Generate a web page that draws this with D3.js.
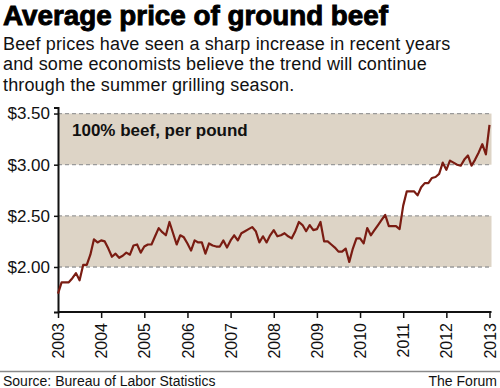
<!DOCTYPE html>
<html>
<head>
<meta charset="utf-8">
<script src="https://cdn.jsdelivr.net/npm/d3@7"></script>
<style>
  body { margin: 0; background: #fff; }
  text { font-family: "Liberation Sans", Arial, sans-serif; }
</style>
</head>
<body>
<div id="chart"></div>
<script>
// DATA - MONTHLY PRICES, JAN 2003 TO JAN 2013
const years = [2003, 2004, 2005, 2006, 2007, 2008, 2009, 2010, 2011, 2012, 2013];
const prices = [
  1.74, 1.85, 1.85, 1.85, 1.89, 1.94, 1.87, 2.02, 2.02, 2.12, 2.27, 2.24,
  2.26, 2.25, 2.18, 2.10, 2.13, 2.09, 2.11, 2.14, 2.12, 2.21, 2.22, 2.14,
  2.20, 2.22, 2.22, 2.30, 2.38, 2.34, 2.31, 2.44, 2.33, 2.22, 2.31, 2.29,
  2.23, 2.16, 2.26, 2.24, 2.24, 2.13, 2.23, 2.21, 2.20, 2.20, 2.26, 2.19,
  2.26, 2.31, 2.26, 2.33, 2.35, 2.37, 2.39, 2.35, 2.24, 2.30, 2.24, 2.31,
  2.36, 2.30, 2.31, 2.33, 2.30, 2.28, 2.35, 2.44, 2.41, 2.35, 2.41, 2.36,
  2.37, 2.44, 2.25, 2.25, 2.22, 2.19, 2.15, 2.15, 2.18, 2.05, 2.18, 2.28,
  2.28, 2.23, 2.38, 2.31, 2.36, 2.41, 2.46, 2.51, 2.40, 2.40, 2.40, 2.37,
  2.60, 2.74, 2.74, 2.74, 2.70, 2.78, 2.82, 2.82, 2.87, 2.88, 2.91, 3.02,
  2.95, 3.04, 3.02, 3.00, 2.99, 3.05, 3.09, 2.99, 3.05, 3.12, 3.20, 3.10,
  3.39
];
const yTicks = [2.00, 2.50, 3.00, 3.50];
const bands = [[2.00, 2.50], [3.00, 3.50]];
const subtitle = [
  'Beef prices have seen a sharp increase in recent years',
  'and some economists believe the trend will continue',
  'through the summer grilling season.'
];

// SIZES
width = 500;
height = 388;
left = 58;
right = 491.5;
bottom = 312;

svg = d3.select('#chart')
  .append('svg')
  .attr('width', width)
  .attr('height', height);

// SCALES
x = d3.scaleLinear().domain([2003, 2013]).range([left, 489.5]);
y = d3.scaleLinear().domain([1.56, 3.56]).range([bottom, 107.4]);

data = prices.map((p, i) => ({ t: 2003 + i / 12, p: p }));

// SHADED BANDS
svg.selectAll('rect.band')
  .data(bands)
  .enter()
  .append('rect')
  .attr('class', 'band')
  .attr('x', left)
  .attr('width', right - left)
  .attr('y', d => y(d[1]))
  .attr('height', d => y(d[0]) - y(d[1]))
  .attr('fill', '#ddd4c6');

// DASHED GRID
svg.selectAll('line.grid')
  .data(yTicks)
  .enter()
  .append('line')
  .attr('class', 'grid')
  .attr('x1', left)
  .attr('x2', right)
  .attr('y1', d => y(d))
  .attr('y2', d => y(d))
  .attr('stroke', '#9a9a9a')
  .attr('stroke-width', 1.3)
  .attr('stroke-dasharray', '4,3');

// LABEL IN TOP BAND
svg.append('text')
  .text('100% beef, per pound')
  .attr('x', 72)
  .attr('y', 136)
  .attr('font-size', 17)
  .attr('font-weight', 'bold')
  .attr('fill', '#111');

// Y AXIS
yAxis = d3.axisLeft(y)
  .tickValues(yTicks)
  .tickSize(4)
  .tickPadding(4)
  .tickFormat(d => '$' + d3.format('.2f')(d));

gy = svg.append('g')
  .attr('transform', `translate(${left},0)`)
  .call(yAxis);
gy.select('.domain').attr('stroke', '#111').attr('stroke-width', 2);
gy.selectAll('.tick line').attr('stroke', '#111').attr('stroke-width', 1.5);
gy.selectAll('.tick text')
  .attr('font-size', 17)
  .attr('font-family', '"Liberation Sans", Arial, sans-serif')
  .attr('fill', '#111');

// X AXIS
xAxis = d3.axisBottom(x)
  .tickValues(years)
  .tickSize(6)
  .tickSizeOuter(0)
  .tickFormat(d3.format('d'));

gx = svg.append('g')
  .attr('transform', `translate(0,${bottom})`)
  .call(xAxis);
gx.select('.domain').attr('stroke', '#111').attr('stroke-width', 2)
  .attr('d', `M${left},0H${right}`);
gx.selectAll('.tick line').attr('stroke', '#111').attr('stroke-width', 1.5);
gx.selectAll('.tick text')
  .attr('font-size', 16)
  .attr('font-family', '"Liberation Sans", Arial, sans-serif')
  .attr('fill', '#111')
  .attr('transform', 'rotate(-90)')
  .attr('x', -11)
  .attr('y', 0)
  .attr('dy', '0.35em')
  .attr('text-anchor', 'end');

// PRICE LINE
line = d3.line()
  .x(d => x(d.t))
  .y(d => y(d.p));

svg.append('path')
  .datum(data)
  .attr('d', line)
  .attr('fill', 'none')
  .attr('stroke', '#7a1c12')
  .attr('stroke-width', 2.2)
  .attr('stroke-linejoin', 'round');

// TITLE
svg.append('text')
  .text('Average price of ground beef')
  .attr('x', 3)
  .attr('y', 25)
  .attr('font-size', 27.5)
  .attr('font-weight', 'bold')
  .attr('font-family', '"Liberation Sans Narrow", "DejaVu Sans Condensed", sans-serif')
  .attr('textLength', 385)
  .attr('lengthAdjust', 'spacingAndGlyphs')
  .attr('stroke', '#000')
  .attr('stroke-width', 0.9)
  .attr('fill', '#000');

// SUBTITLE
svg.append('g')
  .selectAll('text')
  .data(subtitle)
  .enter()
  .append('text')
  .text(d => d)
  .attr('x', 3)
  .attr('y', (d, i) => 49.5 + i * 20.7)
  .attr('font-size', 18)
  .attr('letter-spacing', 0.15)
  .attr('fill', '#111');

// FOOTER
svg.append('line')
  .attr('x1', 0)
  .attr('x2', width)
  .attr('y1', 371.5)
  .attr('y2', 371.5)
  .attr('stroke', '#8a8a8a')
  .attr('stroke-width', 1.5);

svg.append('text')
  .text('Source: Bureau of Labor Statistics')
  .attr('x', 3)
  .attr('y', 386)
  .attr('font-size', 14)
  .attr('fill', '#111');

svg.append('text')
  .text('The Forum')
  .attr('x', 497)
  .attr('y', 386)
  .attr('font-size', 14)
  .attr('text-anchor', 'end')
  .attr('fill', '#111');
</script>
</body>
</html>
